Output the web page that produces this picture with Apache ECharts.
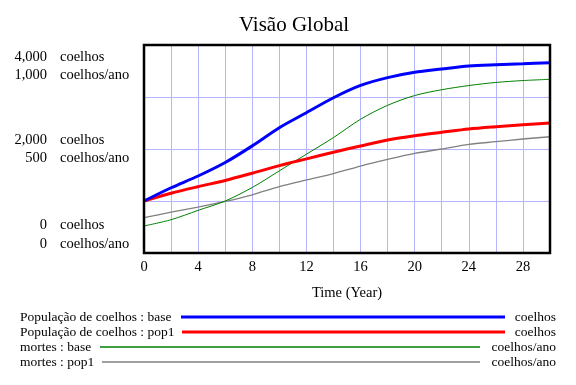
<!DOCTYPE html>
<html><head><meta charset="utf-8">
<script src="https://cdn.jsdelivr.net/npm/echarts@6/dist/echarts.min.js"></script>
<style>html,body{margin:0;padding:0;background:#fff}#c{width:576px;height:385px}</style>
</head><body><div id="c"></div>
<script>
// ---- data ----
const years = [0, 2, 4, 6, 8, 10, 12, 14, 16, 18, 20, 22, 24, 26, 28, 30];
const popBase = [1000, 1255, 1481, 1740, 2060, 2410, 2698, 2985, 3222, 3372, 3475, 3538, 3596, 3621, 3640, 3660];
const popPop1 = [1000, 1148, 1275, 1395, 1535, 1680, 1810, 1938, 2058, 2173, 2256, 2321, 2385, 2429, 2467, 2500];
const mortesBase = [130, 160, 205, 250, 315, 395, 475, 555, 643, 710, 757, 785, 805, 820, 829, 835];
const mortesPop1 = [170, 196, 221, 248, 280, 319, 351, 382, 418, 450, 479, 500, 522, 535, 548, 559];
const coelhosTickValues = [4000, 2000, 0];
const coelhosTickLabels = ['4,000', '2,000', '0'];
const anoTickValues = [1000, 500, 0];
const anoTickLabels = ['1,000', '500', '0'];
const legendNames = ['População de coelhos : base', 'População de coelhos : pop1', 'mortes : base', 'mortes : pop1'];
const legendUnits = ['coelhos', 'coelhos', 'coelhos/ano', 'coelhos/ano'];

const FONT = '"Liberation Serif", "Times New Roman", serif';
const colors = ['#0000ff', '#ff0000', '#008000', '#808080'];
const widths = [3, 3, 1, 1.3];
const GRIDC = '#b4b4ff';

const chart = echarts.init(document.getElementById('c'), null, {renderer: 'canvas'});
const toPts = arr => years.map((t, i) => [t, arr[i]]);

chart.setOption({
  animation: false,
  backgroundColor: '#fff',
  title: {text: 'Visão Global', left: 289, top: 10, textAlign: 'center',
    textStyle: {fontFamily: FONT, fontSize: 21, fontWeight: 'normal', color: '#000'}},
  grid: {left: 144, right: 26, top: 45, bottom: 132, show: false},
  xAxis: {type: 'value', min: 0, max: 30, interval: 2,
    name: 'Time (Year)', nameLocation: 'middle', nameGap: 33,
    nameTextStyle: {fontFamily: FONT, fontSize: 14.5, color: '#000'},
    axisLine: {show: false}, axisTick: {show: false},
    axisLabel: {margin: 7, fontFamily: FONT, fontSize: 14.5, color: '#000',
      formatter: v => (v % 4 === 0 && v < 30) ? String(v) : ''},
    splitLine: {show: true, lineStyle: {color: GRIDC, width: 1}}},
  yAxis: [
    {type: 'value', min: 0, max: 4000, interval: 1000, axisLine: {show: false}, axisTick: {show: false},
      axisLabel: {show: false}, splitLine: {show: true, lineStyle: {color: GRIDC, width: 1}}},
    {type: 'value', min: 0, max: 1000, interval: 250, position: 'left', axisLine: {show: false}, axisTick: {show: false},
      axisLabel: {show: false}, splitLine: {show: false}}
  ],
  series: [
    {name: legendNames[3], type: 'line', yAxisIndex: 1, data: toPts(mortesPop1), smooth: 0.3, symbol: 'none', lineStyle: {color: colors[3], width: widths[3]}, z: 2},
    {name: legendNames[2], type: 'line', yAxisIndex: 1, data: toPts(mortesBase), smooth: 0.3, symbol: 'none', lineStyle: {color: colors[2], width: widths[2]}, z: 3},
    {name: legendNames[1], type: 'line', yAxisIndex: 0, data: toPts(popPop1), smooth: 0.3, symbol: 'none', lineStyle: {color: colors[1], width: widths[1]}, z: 4},
    {name: legendNames[0], type: 'line', yAxisIndex: 0, data: toPts(popBase), smooth: 0.3, symbol: 'none', lineStyle: {color: colors[0], width: widths[0]}, z: 5}
  ]
});

const g = [];
// plot frame
const x0 = chart.convertToPixel({xAxisIndex: 0}, 0), x1 = chart.convertToPixel({xAxisIndex: 0}, 30);
const y0 = chart.convertToPixel({yAxisIndex: 0}, 0), y1 = chart.convertToPixel({yAxisIndex: 0}, 4000);
g.push({type: 'rect', z: 100, shape: {x: x0, y: y1, width: x1 - x0, height: y0 - y1}, style: {fill: 'none', stroke: '#000', lineWidth: 2.5}});
// y-axis labels (stacked pairs)
const offs = [[12, 30], [-9, 9], [-28, -9]];
const font = '14.5px ' + FONT;
coelhosTickValues.forEach((v, i) => {
  const py = chart.convertToPixel({yAxisIndex: 0}, v);
  const pairs = [[coelhosTickLabels[i], 'coelhos', py + offs[i][0]], [anoTickLabels[i], 'coelhos/ano', py + offs[i][1]]];
  pairs.forEach(p => {
    g.push({type: 'text', style: {text: p[0], x: 47, y: p[2], font: font, fill: '#000', textAlign: 'right', align: 'right', textVerticalAlign: 'middle', verticalAlign: 'middle'}});
    g.push({type: 'text', style: {text: p[1], x: 60, y: p[2], font: font, fill: '#000', textAlign: 'left', align: 'left', textVerticalAlign: 'middle', verticalAlign: 'middle'}});
  });
});
// legend
const rowsY = [317, 332, 347, 362];
const lineX = [[181, 505], [182, 505], [100, 480], [102, 480]];
const lw = [3, 3, 1.5, 1.5];
legendNames.forEach((n, i) => {
  g.push({type: 'text', style: {text: n, x: 20, y: rowsY[i], font: '13.5px ' + FONT, fill: '#000', textAlign: 'left', align: 'left', textVerticalAlign: 'middle', verticalAlign: 'middle'}});
  g.push({type: 'line', shape: {x1: lineX[i][0], y1: rowsY[i], x2: lineX[i][1], y2: rowsY[i]}, style: {stroke: colors[i], lineWidth: lw[i]}});
  g.push({type: 'text', style: {text: legendUnits[i], x: 556, y: rowsY[i], font: '13.5px ' + FONT, fill: '#000', textAlign: 'right', align: 'right', textVerticalAlign: 'middle', verticalAlign: 'middle'}});
});
chart.setOption({graphic: g});
</script></body></html>
